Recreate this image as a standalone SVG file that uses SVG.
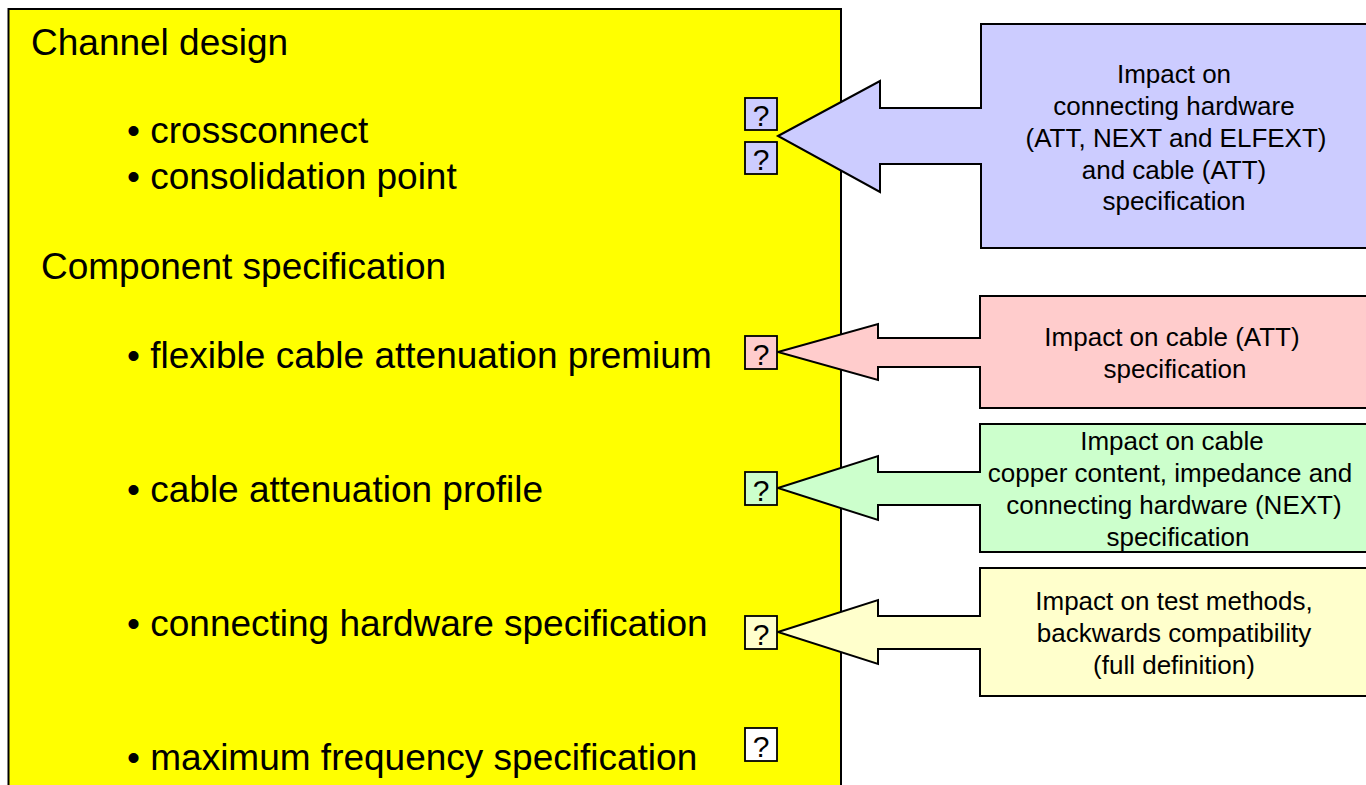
<svg xmlns="http://www.w3.org/2000/svg" width="1366" height="785" viewBox="0 0 1366 785">
<style>
text{font-family:"Liberation Sans",Arial,sans-serif;fill:#000}
.big{font-size:37px}
.call{font-size:26px;text-anchor:middle}
.q{font-size:30px;text-anchor:middle}
.qb{stroke:#000;stroke-width:1.8}
.arr{stroke:#000;stroke-width:2;stroke-linejoin:miter}
</style>
<rect width="1366" height="785" fill="#fff"/>
<g id="panel">
<rect x="8.5" y="9" width="832.5" height="800" fill="#FFFF00" stroke="#000" stroke-width="2"/>
<text class="big" x="31" y="55">Channel design</text>
<text class="big" x="127" y="143">• crossconnect</text>
<text class="big" x="127" y="189">• consolidation point</text>
<text class="big" x="41" y="279">Component specification</text>
<text class="big" x="127" y="368">• flexible cable attenuation premium</text>
<text class="big" x="127" y="502">• cable attenuation profile</text>
<text class="big" x="127" y="636">• connecting hardware specification</text>
<text class="big" x="127" y="770">• maximum frequency specification</text>
</g>
<g id="connectors">
<g id="callout-blue">
<polygon class="arr" fill="#CCCCFF" points="778,136 880,81 880,108 981,108 981,24 1372,24 1372,248 981,248 981,164 880,164 880,192"/>
<text class="call" x="1174" y="83">Impact on</text>
<text class="call" x="1174" y="115">connecting hardware</text>
<text class="call" x="1176" y="147">(ATT, NEXT and ELFEXT)</text>
<text class="call" x="1174" y="179">and cable (ATT)</text>
<text class="call" x="1174" y="210">specification</text>
</g>
<g id="callout-pink">
<polygon class="arr" fill="#FFCCCC" points="778,352 878,324 878,338 980,338 980,296 1372,296 1372,408 980,408 980,367 878,367 878,380"/>
<text class="call" x="1172" y="346">Impact on cable (ATT)</text>
<text class="call" x="1175" y="378">specification</text>
</g>
<g id="callout-green">
<polygon class="arr" fill="#CCFFCC" points="778,488 878,456 878,472 980,472 980,424 1372,424 1372,552 980,552 980,505 878,505 878,520"/>
<text class="call" x="1172" y="450">Impact on cable</text>
<text class="call" x="1170" y="482">copper content, impedance and</text>
<text class="call" x="1174" y="514">connecting hardware (NEXT)</text>
<text class="call" x="1178" y="546">specification</text>
</g>
<g id="callout-yellow">
<polygon class="arr" fill="#FFFFCC" points="778,632 878,600 878,616 980,616 980,568 1372,568 1372,696 980,696 980,649 878,649 878,664"/>
<text class="call" x="1174" y="610">Impact on test methods,</text>
<text class="call" x="1174" y="642">backwards compatibility</text>
<text class="call" x="1174" y="674">(full definition)</text>
</g>
</g>
<g id="q1"><rect class="qb" x="745" y="98" width="32" height="32" fill="#CCCCFF"/><text class="q" x="761" y="126">?</text></g>
<g id="q2"><rect class="qb" x="745" y="142" width="32" height="32" fill="#CCCCFF"/><text class="q" x="761" y="170">?</text></g>
<g id="q3"><rect class="qb" x="745" y="336" width="32" height="33" fill="#FFCCCC"/><text class="q" x="761" y="365">?</text></g>
<g id="q4"><rect class="qb" x="745" y="472" width="32" height="33" fill="#CCFFCC"/><text class="q" x="761" y="501">?</text></g>
<g id="q5"><rect class="qb" x="745" y="616" width="32" height="33" fill="#FFFFCC"/><text class="q" x="761" y="645">?</text></g>
<g id="q6"><rect class="qb" x="745" y="728" width="32" height="33" fill="#FFFFFF"/><text class="q" x="761" y="757">?</text></g>
</svg>
